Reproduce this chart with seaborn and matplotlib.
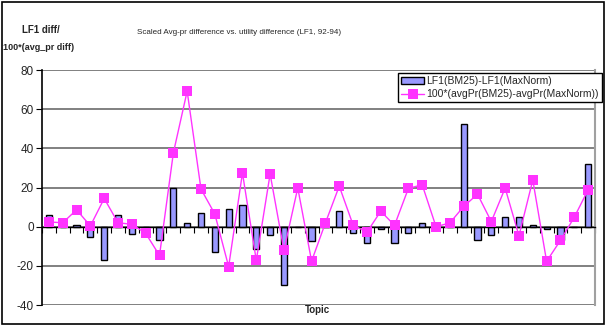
import numpy as np
import pandas as pd
import matplotlib
matplotlib.use("Agg")
import matplotlib.pyplot as plt
import seaborn as sns
from matplotlib.patches import Rectangle
from matplotlib.lines import Line2D
from matplotlib.patches import Patch

sns.set_theme(style="white")
plt.rcParams['font.family'] = ['Liberation Sans', 'DejaVu Sans']

topics = list(range(1, 41))
lf1_diff = [6.0, 0, 1.0, -5.1, -17.1, 6.0, -3.9, 0, -7.0, 20.0,
            2.0, 6.9, -13.0, 8.9, 11.0, -11.3, -4.1, -30.0, 0, -7.3,
            0, 7.9, -3.1, -8.2, -1.0, -8.2, -3.1, 1.7, 0, 0,
            52.2, -7.0, -4.1, 5.1, 5.1, 1.0, -1.0, -6.8, 0, 32.0]
avgpr_diff = [2.4, 2.0, 8.6, 0.4, 14.4, 2.0, 1.2, -3.4, -14.7, 37.6,
              69.2, 19.2, 6.5, -20.4, 27.4, -17.2, 26.9, -12.1, 19.8, -17.6,
              1.9, 20.7, 0.9, -2.9, 7.9, 0.7, 19.5, 21.4, 0.0, 1.9,
              10.3, 16.6, 2.6, 19.7, -4.6, 23.8, -17.7, -7.0, 4.8, 18.8]
bar_label = "LF1(BM25)-LF1(MaxNorm)"
line_label = "100*(avgPr(BM25)-avgPr(MaxNorm))"
yticks = [-40, -20, 0, 20, 40, 60, 80]

df = pd.DataFrame({"topic": topics, "lf1": lf1_diff, "avgpr": avgpr_diff})
df["pos"] = np.arange(len(df))

W, H = 606, 326
fig = plt.figure(figsize=(W / 100, H / 100), dpi=100)
ax = fig.add_axes([42 / W, 1 - 305 / H, (595 - 42) / W, (305 - 70) / H])

bar_color = "#9999FF"
line_color = "#FF33FF"

sns.barplot(data=df, x="pos", y="lf1", ax=ax, color=bar_color, width=0.45,
            edgecolor="black", linewidth=1.0, saturation=1, native_scale=True)
sns.lineplot(data=df, x="pos", y="avgpr", ax=ax, color=line_color, lw=1.0,
             marker="s", markersize=6.5, markeredgewidth=0, zorder=5)

ax.set_xlim(-0.5, len(df) - 0.5)
ax.set_ylim(-40, 80)
ax.set_yticks(yticks)
ax.set_yticklabels([str(v) for v in yticks], fontsize=8.5)
for y in yticks:
    ax.axhline(y, color="#808080", lw=1.4, zorder=0)

ax.set_xticks(np.arange(-0.5, len(df), 1.0))
ax.set_xticklabels([])
ax.spines['bottom'].set_position(('data', 0))
ax.spines['bottom'].set_color("black")
ax.spines['bottom'].set_linewidth(1.0)
ax.spines['bottom'].set_zorder(3)
ax.spines['left'].set_color("black")
ax.spines['left'].set_linewidth(1.2)
ax.spines['top'].set_visible(False)
ax.spines['right'].set_color("#a0a0a0")
ax.spines['right'].set_linewidth(1.5)
ax.tick_params(axis='x', direction='out', length=4, width=0.8, color="black", bottom=True, pad=0)
ax.tick_params(axis='y', direction='out', length=4, width=0.8, color="black", left=True, pad=2)
ax.set_xlabel("")
ax.set_ylabel("")

fig.text(317 / W, 1 - 310 / H, "Topic", ha="center", va="center", fontsize=7, fontweight="bold")
fig.text(239 / W, 1 - 32 / H, "Scaled Avg-pr difference vs. utility difference (LF1, 92-94)",
         ha="center", va="center", fontsize=5.8, fontweight="medium")
fig.text(41 / W, 1 - 30 / H, "LF1 diff/", ha="center", va="center", fontsize=7, fontweight="bold")
fig.text(39 / W, 1 - 47 / H, "100*(avg_pr diff)", ha="center", va="center", fontsize=6.5, fontweight="bold")

handles = [Patch(facecolor=bar_color, edgecolor="black", linewidth=1.0),
           Line2D([0], [0], color=line_color, lw=1.0, marker="s", markersize=6.5, markeredgewidth=0)]
leg = fig.legend(handles, [bar_label, line_label], loc="upper right",
                 bbox_to_anchor=(602 / W, 1 - 73 / H), fontsize=7.5, frameon=True,
                 fancybox=False, edgecolor="black", framealpha=1, borderpad=0.3,
                 handlelength=2.2, handletextpad=0.2, labelspacing=0.3, borderaxespad=0)
leg.get_frame().set_linewidth(1.0)

fig.patches.append(Rectangle((2 / W, 2 / H), (W - 4) / W, (H - 4) / H, transform=fig.transFigure,
                             fill=False, edgecolor="black", lw=1.2))

fig.savefig("out.png", dpi=100)
